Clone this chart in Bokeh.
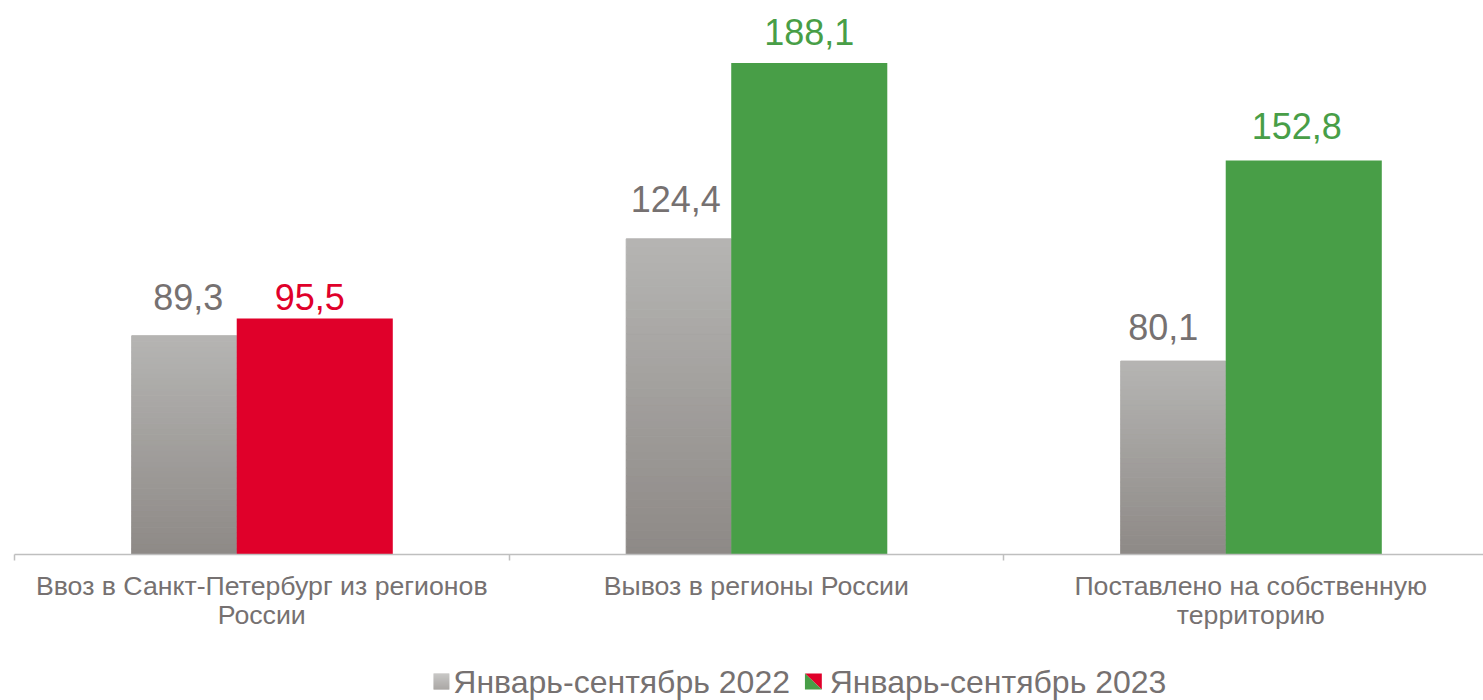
from bokeh.plotting import figure
from bokeh.models import Range1d, FixedTicker
from bokeh.layouts import column
from bokeh.embed import file_html
from bokeh.resources import INLINE
from bokeh.core.properties import value

# ---- data ----
categories = ["Ввоз в Санкт-Петербург из регионов\nРоссии",
              "Вывоз в регионы России",
              "Поставлено на собственную\nтерриторию"]
series_names = ["Январь-сентябрь 2022", "Январь-сентябрь 2023"]
values_2022 = [89.3, 124.4, 80.1]
values_2023 = [95.5, 188.1, 152.8]

# ---- styles ----
colors_2023 = ["#e0002a", "#489e47", "#489e47"]
gray_top = (0xb6, 0xb5, 0xb3)
gray_bottom = (0x8d, 0x89, 0x86)
text_gray = "#767171"
FONT = "Liberation Sans"
gap_2022 = [25, 26, 20]   # label gaps above bars (px)
gap_2023 = [8, 17, 20]
dx_2022 = [4, -3, -10]    # label horizontal nudges (px)
dx_2023 = [-5, 0, -7]

Y0 = 10.0
PX_PER_UNIT = 2.7593
CAT_PX = 494.5
W, H1, H2 = 1483, 650, 50
TOP = 8
LEFT = 14
FRAME_H = 546
FRAME_W = W - LEFT

p = figure(width=W, height=H1, output_backend="svg", toolbar_location=None,
           x_range=Range1d(-0.5, -0.5 + FRAME_W / CAT_PX),
           y_range=Range1d(Y0, Y0 + FRAME_H / PX_PER_UNIT),
           y_axis_location=None, min_border_left=LEFT, min_border_right=0,
           min_border_top=TOP, min_border_bottom=H1 - FRAME_H - TOP)
p.outline_line_color = None
p.xgrid.visible = False
p.ygrid.visible = False

xs = list(range(len(categories)))
g_left, g_right = -0.263, -0.0506
c_left, c_right = -0.0506, 0.265
g_off = (g_left + g_right) / 2
c_off = (c_left + c_right) / 2

def mix(f):
    c = tuple(round(gray_bottom[i] + (gray_top[i] - gray_bottom[i]) * f) for i in range(3))
    return "#%02x%02x%02x" % c

# gray bars with vertical gradient (slices)
N = 40
sx, stop, sbot, scol = [], [], [], []
for x, v in zip(xs, values_2022):
    for k in range(N):
        sx.append(x + g_off)
        sbot.append(Y0 + (v - Y0) * k / N)
        stop.append(Y0 + (v - Y0) * (k + 1) / N)
        scol.append(mix((k + 0.5) / N))
p.vbar(x=sx, top=stop, bottom=sbot, width=g_right - g_left, fill_color=scol,
       line_color=scol, line_width=1)

p.vbar(x=[x + c_off for x in xs], top=values_2023, bottom=Y0, width=c_right - c_left,
       fill_color=colors_2023, line_color=None)

fmt = lambda v: f"{v:.1f}".replace(".", ",")
p.text(x=[x + g_off for x in xs], y=values_2022, text=[fmt(v) for v in values_2022],
       text_align="center", text_baseline="alphabetic",
       x_offset=dx_2022, y_offset=[-(g + 14) for g in gap_2022],
       text_font=value(FONT), text_font_size="36px", text_color=text_gray)
p.text(x=[x + c_off for x in xs], y=values_2023, text=[fmt(v) for v in values_2023],
       text_align="center", text_baseline="alphabetic",
       x_offset=dx_2023, y_offset=[-(g + 14) for g in gap_2023],
       text_font=value(FONT), text_font_size="36px", text_color=colors_2023)

ax = p.xaxis[0]
ax.ticker = FixedTicker(ticks=xs, minor_ticks=[x - 0.5 for x in xs] + [len(xs) - 0.5])
ax.major_label_overrides = {i: c for i, c in enumerate(categories)}
ax.axis_line_color = "#bfbfbf"
ax.axis_line_width = 1.5
ax.major_tick_out = 0
ax.major_tick_in = 0
ax.minor_tick_in = 0
ax.minor_tick_out = 6
ax.minor_tick_line_color = "#bfbfbf"
ax.minor_tick_line_width = 1.5
ax.major_label_text_font = FONT
ax.major_label_text_font_size = "26.7px"
ax.major_label_text_color = text_gray
ax.major_label_text_line_height = 0.98
ax.major_label_standoff = 10

# ---- legend (separate strip, page-pixel coordinates) ----
lg = figure(width=W, height=H2, output_backend="svg", toolbar_location=None,
            x_range=Range1d(0, W), y_range=Range1d(H1 + H2, H1),
            x_axis_location=None, y_axis_location=None, min_border=0)
lg.outline_line_color = None
lg.xgrid.visible = False
lg.ygrid.visible = False
icon_y0, icon_y1 = 673, 689
ix1, ix2 = 423, 798
M = 16
for k in range(M):
    lg.quad(left=ix1, right=ix1 + 16, bottom=icon_y1 - k, top=icon_y1 - k - 1,
            fill_color=mix((k + 0.5) / M), line_color=None)
lg.patch(x=[ix2, ix2 + 17, ix2 + 17], y=[icon_y0, icon_y0, icon_y1],
         fill_color=colors_2023[0], line_color=None)
lg.patch(x=[ix2, ix2, ix2 + 17], y=[icon_y0, icon_y1, icon_y1],
         fill_color=colors_2023[1], line_color=None)
lg.text(x=[ix1 + 20, ix2 + 25], y=[(icon_y0 + icon_y1) / 2] * 2, text=series_names,
        text_align="left", text_baseline="middle", text_font=value(FONT),
        text_font_size="32px", text_color=text_gray)

layout = column(p, lg, spacing=0)
open("out.html", "w").write(file_html(layout, INLINE))
